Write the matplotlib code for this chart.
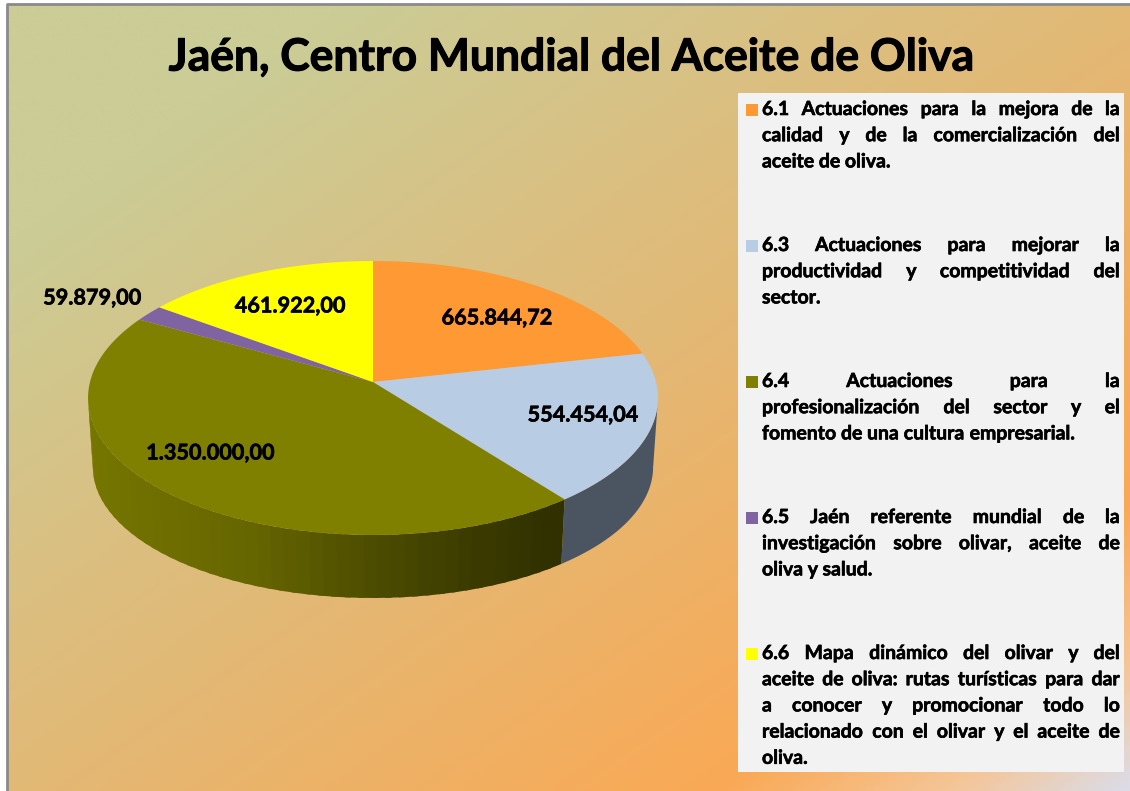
import numpy as np
import matplotlib
matplotlib.use('Agg')
import matplotlib.pyplot as plt
import matplotlib.patheffects as pe
from matplotlib.colors import LinearSegmentedColormap

title = 'Jaén, Centro Mundial del Aceite de Oliva'
values = [665844.72, 554454.04, 1350000.00, 59879.00, 461922.00]
value_labels = ['665.844,72', '554.454,04', '1.350.000,00', '59.879,00', '461.922,00']
colors = ['#ff9933', '#b8cce4', '#808000', '#8064a2', '#ffff00']

# one list of lines per legend entry, last line is not justified
legend_lines = [
    ['6.1 Actuaciones para la mejora de la',
     'calidad y de la comercialización del',
     'aceite de oliva.'],
    ['6.3 Actuaciones para mejorar la',
     'productividad y competitividad del',
     'sector.'],
    ['6.4 Actuaciones para la',
     'profesionalización del sector y el',
     'fomento de una cultura empresarial.'],
    ['6.5 Jaén referente mundial de la',
     'investigación sobre olivar, aceite de',
     'oliva y salud.'],
    ['6.6 Mapa dinámico del olivar y del',
     'aceite de oliva: rutas turísticas para dar',
     'a conocer y promocionar todo lo',
     'relacionado con el olivar y el aceite de',
     'oliva.'],
]

FONT = 'Lato'
# Lato bold is a bit thin next to the original, fatten it a little
FAT = [pe.withStroke(linewidth=0.45, foreground='black')]

fig = plt.figure(figsize=(11.3, 7.91), dpi=100)
ax = fig.add_axes([0, 0, 1, 1])
ax.axis('off')

# background gradient, runs from top left to bottom right
cmap = LinearSegmentedColormap.from_list('bg', [
    (0.0, '#cbcc96'), (0.15, '#cbcc96'), (0.5, '#e2b976'),
    (0.82, '#faa955'), (0.92, '#f5c596'), (1.0, '#dcdce8')])
xx, yy = np.meshgrid(np.linspace(0, 1, 400), np.linspace(0, 1, 300))
ax.imshow((xx + yy) / 2, cmap=cmap, vmin=0, vmax=1, extent=(7, 1130, 791, 4),
          aspect='auto', zorder=0)
ax.plot([7, 7, 1130], [791, 4, 4], color='#8a8a8a', lw=2, zorder=1)
ax.set_xlim(0, 1130)
ax.set_ylim(791, 0)


# perspective view of the pie disc, angle is clockwise from the top
def top_face(theta):
    u, v = np.sin(theta), np.cos(theta)
    w = 1 + 0.1168 * v
    return 283 * u / w, 135.1 * v / w


def to_px(x, y):
    return 373 + x, 382 - y


def bottom_edge(theta):
    x, y = top_face(theta)
    return x * 0.983, y * 0.956 - 69.7


def wall_piece(a_from, a_to, color):
    arc = np.linspace(a_from, a_to, 30)
    tx, ty = to_px(*top_face(arc))
    bx, by = to_px(*bottom_edge(arc[::-1]))
    ax.fill(np.r_[tx, bx], np.r_[ty, by], color=color, lw=0, zorder=2)


edges = np.concatenate([[0], np.cumsum(values)]) / np.sum(values) * 2 * np.pi

# side wall, only the part facing us. blue is one flat colour, olive goes in bands
wall_x = [90, 250, 370, 480, 565]
wall_r = [0x75, 0x66, 0x4d, 0x3a, 0x2f]
front_start = np.radians(97)
front_end = np.radians(263)
wall_piece(front_start, edges[2], '#4b5562')
bands = np.linspace(edges[2], front_end, 50)
for a0, a1 in zip(bands[:-1], bands[1:]):
    # each band runs on under the next one so no seams show
    end = min(a1 + 0.02, front_end)
    r = np.interp(to_px(*top_face((a0 + a1) / 2))[0], wall_x, wall_r) / 255
    wall_piece(a0, end, (r, r, 0))

# top of the pie
for i, c in enumerate(colors):
    angles = np.linspace(edges[i], edges[i + 1], 200)
    x, y = to_px(*top_face(angles))
    ax.fill(np.r_[373, x], np.r_[382, y], color=c, lw=0, zorder=3)

label_pos = [(497, 318), (583, 415), (210, 453), (92, 298), (290, 306)]
for s, (x, y) in zip(value_labels, label_pos):
    ax.text(x, y, s, ha='center', va='center', fontsize=15.6, fontweight='bold',
            family=FONT, color='black', zorder=5, path_effects=FAT)

ax.text(572, 57.5, title, ha='center', va='center', fontsize=32, fontweight='bold',
        family=FONT, color='black', zorder=5,
        path_effects=[pe.withStroke(linewidth=0.8, foreground='black')])

# legend panel
ax.fill([738, 1124, 1124, 738], [93, 93, 772, 772], color='#f2f2f2', lw=0, zorder=4)

renderer = fig.canvas.get_renderer()
LEFT, RIGHT = 762, 1120
LEG_SIZE = 14.0


def text_width(s):
    t = ax.text(0, 0, s, fontsize=LEG_SIZE, fontweight='bold', family=FONT)
    w = t.get_window_extent(renderer).width
    t.remove()
    return w


for n, lines in enumerate(legend_lines):
    y0 = 108 + n * 136
    ax.fill([746, 758, 758, 746], [y0 - 4, y0 - 4, y0 + 8, y0 + 8],
            color=colors[n], lw=0, zorder=5)
    for k, line in enumerate(lines):
        y = y0 + k * 26.2
        words = line.split(' ')
        widths = [text_width(w) for w in words]
        if k == len(lines) - 1:
            gap = 4.5
        else:
            gap = (RIGHT - LEFT - sum(widths)) / (len(words) - 1)
        x = LEFT
        for w, wd in zip(words, widths):
            ax.text(x, y + 7, w, ha='left', va='baseline', fontsize=LEG_SIZE,
                    fontweight='bold', family=FONT, color='black', zorder=6,
                    path_effects=FAT)
            x += wd + gap

fig.savefig('out.png', dpi=100, facecolor='white')
